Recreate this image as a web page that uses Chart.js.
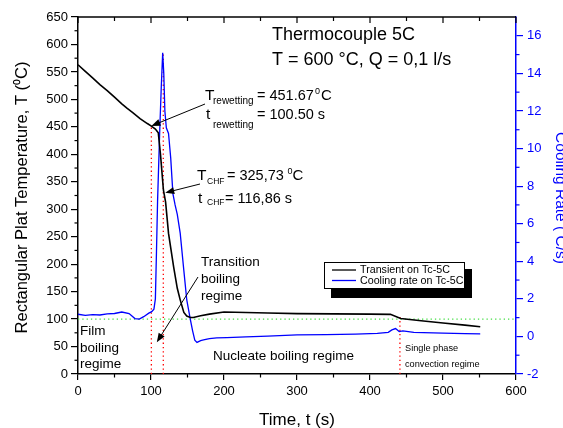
<!DOCTYPE html>
<html>
<head>
<meta charset="utf-8">
<script src="https://cdn.jsdelivr.net/npm/chart.js@4.4.1/dist/chart.umd.min.js"></script>
<style>
html, body { margin: 0; padding: 0; background: #fff; }
</style>
</head>
<body>
<canvas id="chart" width="563" height="428"></canvas>
<script>
/* data */
const tempTime = [0, 10, 20, 30, 40, 50, 60, 67, 75, 85, 95, 101, 106, 110, 113, 117, 120, 124, 131, 136, 140, 145, 149, 154, 158, 168, 180, 200, 230, 260, 300, 350, 400, 428, 442, 470, 500, 530, 551];
const tempValues = [563, 551, 539, 527, 516, 504, 492, 484, 476, 465, 456, 451, 446, 439, 400, 335, 313, 256, 195, 156, 135, 112, 105.5, 103, 103, 106, 109, 113, 112, 111, 110, 109.5, 109, 108.6, 101, 97, 93, 89, 86];

const rateTime = [0, 10, 20, 30, 40, 50, 60, 70, 78, 84, 90, 97, 101, 104, 106, 107.5, 109, 112, 114, 116, 117.5, 119, 121, 124, 127, 130, 133, 136, 140, 145, 149, 154, 157, 160, 163, 168, 172, 180, 190, 204, 230, 260, 300, 340, 380, 410, 425, 430, 435, 440, 445, 460, 500, 530, 551];
const rateValues = [1.18, 1.12, 1.16, 1.14, 1.2, 1.22, 1.3, 1.22, 0.95, 0.92, 1.05, 1.24, 1.32, 1.45, 2.0, 4.5, 7.2, 11.0, 13.2, 15.1, 14.0, 12.0, 11.1, 10.8, 9.5, 7.6, 7.0, 6.5, 5.5, 3.5, 1.94, 0.88, 0.3, -0.2, -0.32, -0.22, -0.18, -0.12, -0.08, -0.06, -0.02, 0.02, 0.08, 0.1, 0.12, 0.16, 0.22, 0.35, 0.42, 0.26, 0.3, 0.22, 0.18, 0.15, 0.14];

const xTicks = [0, 100, 200, 300, 400, 500, 600];
const yTicks = [0, 50, 100, 150, 200, 250, 300, 350, 400, 450, 500, 550, 600, 650];
const y1Ticks = [-2, 0, 2, 4, 6, 8, 10, 12, 14, 16];

const rewetTime = 100.5, rewetTemp = 451.67;
const chfTime = 116.86, chfTemp = 325.73;
const rateMax = 15.1;
const singleTime = 441, singleTemp = 104;
const refTemp = 100;

const FONT = "'Liberation Sans', Arial, sans-serif";
Chart.defaults.font.family = FONT;
Chart.defaults.font.size = 13;
Chart.defaults.color = "#000";

const pts = (xs, ys) => xs.map((x, i) => ({ x, y: ys[i] }));
const dotted = (data, axis, color) => ({
    data, yAxisID: axis, borderColor: color, borderWidth: 1.3,
    borderDash: [1.3, 3], pointRadius: 0, fill: false, order: 2
});

function arrow(ctx, x1, y1, x2, y2) {
    const a = Math.atan2(y2 - y1, x2 - x1);
    ctx.beginPath();
    ctx.moveTo(x1, y1);
    ctx.lineTo(x2 - 6 * Math.cos(a), y2 - 6 * Math.sin(a));
    ctx.stroke();
    ctx.beginPath();
    ctx.moveTo(x2, y2);
    ctx.lineTo(x2 - 9 * Math.cos(a) + 3.5 * Math.sin(a), y2 - 9 * Math.sin(a) - 3.5 * Math.cos(a));
    ctx.lineTo(x2 - 9 * Math.cos(a) - 3.5 * Math.sin(a), y2 - 9 * Math.sin(a) + 3.5 * Math.cos(a));
    ctx.closePath();
    ctx.fill();
}

function txt(ctx, s, x, y, size) {
    ctx.font = size + "px " + FONT;
    ctx.fillText(s, x, y);
}

const extras = {
    id: "extras",
    afterDraw(chart) {
        const { ctx, chartArea: ca, scales } = chart;
        const { x, y, y1 } = scales;
        ctx.save();

        // top axis + inward ticks, minor ticks elsewhere
        ctx.strokeStyle = "#000";
        ctx.lineWidth = 1.5;
        ctx.beginPath();
        ctx.moveTo(ca.left, ca.top);
        ctx.lineTo(ca.right, ca.top);
        ctx.stroke();
        ctx.lineWidth = 1.2;
        for (let v = 0; v <= 600; v += 50) {
            const px = x.getPixelForValue(v);
            const len = v % 100 === 0 ? 6 : 4;
            ctx.beginPath();
            ctx.moveTo(px, ca.top);
            ctx.lineTo(px, ca.top + len);
            ctx.stroke();
            if (v % 100 !== 0) {
                ctx.beginPath();
                ctx.moveTo(px, ca.bottom);
                ctx.lineTo(px, ca.bottom + 3.5);
                ctx.stroke();
            }
        }
        for (let v = 25; v < 650; v += 50) {
            const py = y.getPixelForValue(v);
            ctx.beginPath();
            ctx.moveTo(ca.left - 3.5, py);
            ctx.lineTo(ca.left, py);
            ctx.stroke();
        }
        ctx.strokeStyle = "#0000ff";
        for (let v = -1; v < 17; v += 2) {
            const py = y1.getPixelForValue(v);
            ctx.beginPath();
            ctx.moveTo(ca.right, py);
            ctx.lineTo(ca.right + 3.5, py);
            ctx.stroke();
        }

        // axis titles
        ctx.fillStyle = "#000";
        ctx.textAlign = "center";
        txt(ctx, "Time, t (s)", (ca.left + ca.right) / 2, 425, 17);
        ctx.save();
        ctx.translate(27, (ca.top + ca.bottom) / 2 + 2);
        ctx.rotate(-Math.PI / 2);
        txt(ctx, "Rectangular Plat Temperature, T (\u2070C)", 0, 0, 16.5);
        ctx.restore();
        ctx.save();
        ctx.fillStyle = "#0000ff";
        ctx.translate(556, 198);
        ctx.rotate(Math.PI / 2);
        txt(ctx, "Cooling Rate ( C/s)", 0, 0, 15.5);
        ctx.restore();

        // annotations
        ctx.textAlign = "left";
        txt(ctx, "Thermocouple 5C", 272, 40, 18);
        txt(ctx, "T = 600 \u00b0C, Q = 0,1 l/s", 272, 65, 18);

        txt(ctx, "T", 205, 100, 15.5);
        txt(ctx, "rewetting", 213, 104, 10);
        txt(ctx, "= 451.67", 257, 100, 14.5);
        txt(ctx, "0", 315, 94, 9);
        txt(ctx, "C", 321, 100, 15);
        txt(ctx, "t", 206, 119, 15.5);
        txt(ctx, "rewetting", 213, 127.5, 10);
        txt(ctx, "= 100.50 s", 257, 119, 14.5);

        txt(ctx, "T", 197, 180, 15.5);
        txt(ctx, "CHF", 207, 184, 8.5);
        txt(ctx, "= 325,73", 227, 180, 14.5);
        txt(ctx, "0", 287.5, 174, 9);
        txt(ctx, "C", 292.5, 180, 15);
        txt(ctx, "t", 198, 203, 15.5);
        txt(ctx, "CHF", 207, 205, 8.5);
        txt(ctx, "= 116,86 s", 225, 203, 14.5);

        txt(ctx, "Transition", 201, 266, 13.5);
        txt(ctx, "boiling", 201, 283, 13.5);
        txt(ctx, "regime", 201, 300, 13.5);
        txt(ctx, "Film", 80, 335, 13.5);
        txt(ctx, "boiling", 80, 352, 13.5);
        txt(ctx, "regime", 80, 368, 13.5);
        txt(ctx, "Nucleate boiling regime", 213, 360, 13.5);
        txt(ctx, "Single phase", 405, 351, 9.2);
        txt(ctx, "convection regime", 405, 367, 9.2);

        // arrows
        ctx.strokeStyle = "#000";
        ctx.fillStyle = "#000";
        ctx.lineWidth = 1;
        arrow(ctx, 205, 104, x.getPixelForValue(rewetTime), y.getPixelForValue(rewetTemp));
        arrow(ctx, 200, 184, x.getPixelForValue(119.5), y.getPixelForValue(330));
        arrow(ctx, 198, 277, x.getPixelForValue(108), y.getPixelForValue(58));

        // legend with shadow
        ctx.fillStyle = "#000";
        ctx.fillRect(331, 269, 141, 29);
        ctx.fillStyle = "#fff";
        ctx.fillRect(324, 262, 141, 27);
        ctx.strokeStyle = "#000";
        ctx.lineWidth = 1;
        ctx.strokeRect(324.5, 262.5, 140, 26);
        chart.data.datasets.slice(0, 2).forEach((ds, i) => {
            const ly = 270 + i * 10.5;
            ctx.strokeStyle = ds.borderColor;
            ctx.lineWidth = 1.3;
            ctx.beginPath();
            ctx.moveTo(332, ly);
            ctx.lineTo(356, ly);
            ctx.stroke();
            ctx.fillStyle = "#000";
            ctx.textBaseline = "middle";
            txt(ctx, ds.label, 360, ly + 0.5, 10.7);
        });
        ctx.restore();
    }
};

new Chart(document.getElementById("chart"), {
    type: "line",
    data: {
        datasets: [
            {
                label: "Transient on Tc-5C",
                data: pts(tempTime, tempValues),
                yAxisID: "y", borderColor: "#000", borderWidth: 1.6,
                pointRadius: 0, fill: false, order: 0
            },
            {
                label: "Cooling rate on Tc-5C",
                data: pts(rateTime, rateValues),
                yAxisID: "y1", borderColor: "#0000ff", borderWidth: 1.3,
                pointRadius: 0, fill: false, order: 1
            },
            dotted([{ x: 0, y: refTemp }, { x: 600, y: refTemp }], "y", "#44dd44"),
            dotted([{ x: rewetTime, y: 0 }, { x: rewetTime, y: rewetTemp }], "y", "#ff0000"),
            dotted([{ x: chfTime, y: -2 }, { x: chfTime, y: rateMax }], "y1", "#ff0000"),
            dotted([{ x: singleTime, y: 0 }, { x: singleTime, y: singleTemp }], "y", "#ff0000")
        ]
    },
    options: {
        responsive: false,
        animation: false,
        layout: { padding: { top: 17, left: 0, right: 0, bottom: 0 } },
        plugins: { legend: { display: false }, tooltip: { enabled: false } },
        scales: {
            x: {
                type: "linear", min: 0, max: 600,
                afterBuildTicks: s => { s.ticks = xTicks.map(v => ({ value: v })); },
                afterFit: s => { s.height = 54; },
                grid: { drawOnChartArea: false, tickLength: 6, color: "#000", lineWidth: 1.2 },
                border: { color: "#000", width: 1.5 },
                ticks: { color: "#000", padding: 4, maxRotation: 0 }
            },
            y: {
                position: "left", min: 0, max: 650,
                afterBuildTicks: s => { s.ticks = yTicks.map(v => ({ value: v })); },
                afterFit: s => { s.width = 78; },
                grid: { drawOnChartArea: false, tickLength: 7, color: "#000", lineWidth: 1.2 },
                border: { color: "#000", width: 1.5 },
                ticks: { color: "#000", padding: 3 }
            },
            y1: {
                position: "right", min: -2, max: 17,
                afterBuildTicks: s => { s.ticks = y1Ticks.map(v => ({ value: v })); },
                afterFit: s => { s.width = 47; },
                grid: { drawOnChartArea: false, tickLength: 7, color: "#0000ff", lineWidth: 1.2 },
                border: { color: "#0000ff", width: 1.5 },
                ticks: { color: "#0000ff", padding: 4 }
            }
        }
    },
    plugins: [extras]
});
</script>
</body>
</html>
